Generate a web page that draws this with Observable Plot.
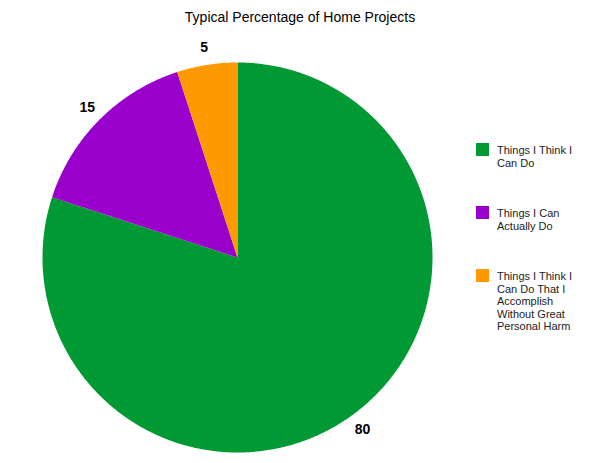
<!DOCTYPE html>
<html>
<head>
<meta charset="utf-8">
<script src="https://cdn.jsdelivr.net/npm/d3@7"></script>
<script src="https://cdn.jsdelivr.net/npm/@observablehq/plot@0.6"></script>
<style>
  body { margin: 0; background: #fff; font-family: Arial, "Liberation Sans", sans-serif; }
  #wrap { position: relative; width: 600px; height: 463px; overflow: hidden; }
  #title { position: absolute; left: 0; width: 600px; top: 9px; text-align: center; font-size: 14px; color: #000; }
  #chart { position: absolute; left: 0; top: 0; }
  .leg { position: absolute; left: 476px; font-size: 11px; line-height: 12.5px; color: #222; }
  .leg .sw { position: absolute; left: 0; top: 0; width: 13px; height: 13px; }
  .leg .tx { position: absolute; left: 21px; top: 1px; width: 100px; }
</style>
</head>
<body>
<div id="wrap">
  <div id="chart"></div>
  <div id="title">Typical Percentage of Home Projects</div>
  <div id="legend"></div>
</div>
<script>
const categories = ["Things I Think I Can Do", "Things I Can Actually Do", "Things I Think I Can Do That I Accomplish Without Great Personal Harm"];
const legendLines = [["Things I Think I", "Can Do"], ["Things I Can", "Actually Do"], ["Things I Think I", "Can Do That I", "Accomplish", "Without Great", "Personal Harm"]];
const values = [80, 15, 5];
const colors = ["#009933", "#9900cc", "#ff9900"];

const pie = d3.pie().sort(null).value(d => d.value);
const arcs = pie(categories.map((name, i) => ({name, value: values[i]})));

// polygon outlines of each slice in unit-circle coordinates
const pts = [];
for (const a of arcs) {
  const n = Math.max(2, Math.ceil((a.endAngle - a.startAngle) / (Math.PI / 360)));
  pts.push({name: a.data.name, x: 0, y: 0});
  for (let k = 0; k <= n; k++) {
    const t = a.startAngle + (a.endAngle - a.startAngle) * k / n;
    pts.push({name: a.data.name, x: Math.sin(t), y: Math.cos(t)});
  }
}
const labels = arcs.map(a => {
  const m = (a.startAngle + a.endAngle) / 2;
  return {text: String(a.data.value), x: 1.09 * Math.sin(m), y: 1.09 * Math.cos(m)};
});

const plot = Plot.plot({
  width: 600,
  height: 463,
  marginLeft: 42,
  marginRight: 168,
  marginTop: 62,
  marginBottom: 11,
  x: {domain: [-1, 1], axis: null},
  y: {domain: [-1, 1], axis: null},
  color: {domain: categories, range: colors},
  style: {fontFamily: "Arial, 'Liberation Sans', sans-serif", background: "white"},
  marks: [
    Plot.line(pts, {x: "x", y: "y", z: "name", fill: "name", stroke: null}),
    Plot.text(labels, {x: "x", y: "y", text: "text", fontSize: 14, fontWeight: "bold", fill: "#000"})
  ]
});
document.getElementById("chart").appendChild(plot);

const leg = document.getElementById("legend");
const tops = [143, 206, 269];
categories.forEach((c, i) => {
  const d = document.createElement("div");
  d.className = "leg";
  d.style.top = tops[i] + "px";
  const sw = document.createElement("div");
  sw.className = "sw";
  sw.style.background = colors[i];
  const tx = document.createElement("div");
  tx.className = "tx";
  tx.innerHTML = legendLines[i].join("<br>");
  d.appendChild(sw);
  d.appendChild(tx);
  leg.appendChild(d);
});
</script>
</body>
</html>
